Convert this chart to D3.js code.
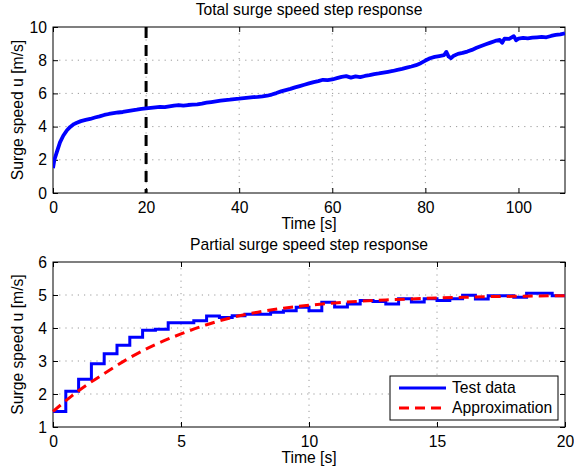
<!DOCTYPE html>
<html><head><meta charset="utf-8">
<script src="https://cdn.jsdelivr.net/npm/d3@7"></script>
<style>
html,body{margin:0;padding:0;background:#fff;}
svg text{font-family:"Liberation Sans",Arial,Helvetica,sans-serif;fill:#000;}
</style></head>
<body>
<svg id="chart" width="574" height="475"></svg>
<script>
// ---- Data ----
// Top: total surge speed step response (time s, speed m/s)
const totalTime = [0,0.3,0.8,1.5,2.2,3,3.7,4.5,5,6,7,8,9,10,11,12,13,14,15,16,17,18,19,20,21,22,23,24,25,26,27,28,29,30,31,32,33,34,35,36,37,38,39,40,41,42,43,44,45,46,47,48,49,50,51,52,53,54,55,56,57,58,59,60,61,62,63,64,65,66,67,68,69,70,71,72,73,74,75,76,77,78,79,80,81,82,83,84,84.5,85,85.5,86,87,88,89,90,91,92,93,94,95,96,96.5,97,98,99,99.5,100,101,102,103,104,105,106,107,108,109,110];
const totalSpeed = [1.5,2.0,2.45,3.05,3.45,3.78,3.98,4.15,4.22,4.33,4.40,4.46,4.55,4.62,4.70,4.76,4.81,4.85,4.88,4.93,4.98,5.02,5.07,5.10,5.13,5.16,5.19,5.17,5.22,5.27,5.30,5.26,5.30,5.32,5.34,5.38,5.44,5.48,5.52,5.56,5.60,5.62,5.66,5.68,5.71,5.74,5.77,5.79,5.82,5.86,5.93,6.02,6.12,6.20,6.27,6.36,6.44,6.52,6.60,6.68,6.74,6.82,6.80,6.84,6.92,7.00,7.04,6.95,7.02,6.98,7.05,7.10,7.16,7.20,7.25,7.30,7.35,7.42,7.48,7.55,7.62,7.70,7.82,7.98,8.12,8.20,8.25,8.30,8.50,8.22,8.12,8.25,8.38,8.44,8.52,8.62,8.75,8.86,8.96,9.06,9.16,9.22,9.05,9.30,9.28,9.45,9.20,9.30,9.34,9.32,9.36,9.38,9.40,9.38,9.46,9.52,9.56,9.62];
const markerTime = 20;

// Bottom: partial response, test data sampled every 0.5 s (step hold)
const stepTime = [0,0.5,1,1.5,2,2.5,3,3.5,4,4.5,5,5.5,6,6.5,7,7.5,8,8.5,9,9.5,10,10.5,11,11.5,12,12.5,13,13.5,14,14.5,15,15.5,16,16.5,17,17.5,18,18.5,19,19.5,20];
const stepSpeed = [1.47,2.08,2.45,2.92,3.22,3.48,3.72,3.93,3.96,4.16,4.16,4.22,4.36,4.32,4.37,4.42,4.42,4.48,4.52,4.63,4.52,4.78,4.64,4.73,4.83,4.80,4.73,4.89,4.79,4.89,4.83,4.89,4.99,4.88,4.98,4.98,4.93,5.05,5.05,4.98,4.98];
// Approximation curve
const approxTime = [0,1,2,3,4,5,6,7,8,9,10,11,12,13,14,15,16,17,18,19,20];
const approxSpeed = [1.47,2.10,2.62,3.10,3.50,3.82,4.10,4.32,4.48,4.60,4.69,4.76,4.81,4.85,4.88,4.91,4.93,4.95,4.96,4.97,4.98];

const topXTicks = [0,20,40,60,80,100];
const topYTicks = [0,2,4,6,8,10];
const botXTicks = [0,5,10,15,20];
const botYTicks = [1,2,3,4,5,6];
const legendLabels = ["Test data","Approximation"];

// ---- Drawing ----
const svg = d3.select("#chart");
const FS = 15.7;

function panel(cfg){
  const g = svg.append("g");
  const x = d3.scaleLinear().domain(cfg.xd).range([cfg.l, cfg.r]);
  const y = d3.scaleLinear().domain(cfg.yd).range([cfg.b, cfg.t]);
  // grid
  g.append("g").selectAll("line").data(cfg.xt.slice(1,-1)).join("line")
    .attr("x1",d=>x(d)).attr("x2",d=>x(d)).attr("y1",cfg.t).attr("y2",cfg.b)
    .attr("stroke","#9a9a9a").attr("stroke-width",1).attr("stroke-dasharray","1.2,5");
  g.append("g").selectAll("line").data(cfg.yt.slice(1,-1)).join("line")
    .attr("y1",d=>y(d)).attr("y2",d=>y(d)).attr("x1",cfg.l).attr("x2",cfg.r)
    .attr("stroke","#9a9a9a").attr("stroke-width",1).attr("stroke-dasharray","1.2,5");
  // axes (ticks inward)
  const tl = 5;
  const ax = g.append("g").attr("transform",`translate(0,${cfg.b})`)
    .call(d3.axisBottom(x).tickValues(cfg.xt).tickSize(-tl).tickPadding(9).tickFormat(d3.format("d")));
  const axT = g.append("g").attr("transform",`translate(0,${cfg.t})`)
    .call(d3.axisTop(x).tickValues(cfg.xt).tickSize(-tl).tickFormat(""));
  const ay = g.append("g").attr("transform",`translate(${cfg.l},0)`)
    .call(d3.axisLeft(y).tickValues(cfg.yt).tickSize(-tl).tickPadding(6).tickFormat(d3.format("d")));
  const ayR = g.append("g").attr("transform",`translate(${cfg.r},0)`)
    .call(d3.axisRight(y).tickValues(cfg.yt).tickSize(-tl).tickFormat(""));
  [ax,axT,ay,ayR].forEach(a=>{
    a.select(".domain").remove();
    a.selectAll("line").attr("stroke","#000");
    a.selectAll("text").attr("font-size",FS).attr("font-family","Liberation Sans, Arial, sans-serif");
  });
  // box
  g.append("rect").attr("x",cfg.l).attr("y",cfg.t).attr("width",cfg.r-cfg.l).attr("height",cfg.b-cfg.t)
    .attr("fill","none").attr("stroke","#000").attr("stroke-width",1);
  // titles
  g.append("text").attr("x",(cfg.l+cfg.r)/2).attr("y",cfg.t-12).attr("text-anchor","middle")
    .attr("font-size",FS).text(cfg.title);
  g.append("text").attr("x",(cfg.l+cfg.r)/2).attr("y",cfg.b+36).attr("text-anchor","middle")
    .attr("font-size",FS).text("Time [s]");
  g.append("text").attr("transform",`translate(${cfg.l-30},${(cfg.t+cfg.b)/2}) rotate(-90)`)
    .attr("text-anchor","middle").attr("font-size",FS).text("Surge speed u [m/s]");
  return {g,x,y};
}

// top panel
const P1 = panel({l:53,r:565,t:27,b:193,xd:[0,110],yd:[0,10],xt:topXTicks,yt:topYTicks,title:"Total surge speed step response"});
svg.append("clipPath").attr("id","c1").append("rect").attr("x",53).attr("y",27).attr("width",512).attr("height",166);
P1.g.append("line").attr("x1",P1.x(markerTime)).attr("x2",P1.x(markerTime)).attr("y1",P1.y(10)).attr("y2",P1.y(0))
  .attr("stroke","#000").attr("stroke-width",3).attr("stroke-dasharray","11,7");
P1.g.append("path").datum(totalTime.map((t,i)=>[t,totalSpeed[i]]))
  .attr("clip-path","url(#c1)")
  .attr("d",d3.line().x(d=>P1.x(d[0])).y(d=>P1.y(d[1])))
  .attr("fill","none").attr("stroke","#0000ff").attr("stroke-width",3.8).attr("stroke-linejoin","round");

// bottom panel
const P2 = panel({l:53,r:565,t:262,b:427,xd:[0,20],yd:[1,6],xt:botXTicks,yt:botYTicks,title:"Partial surge speed step response"});
P2.g.append("path").datum(stepTime.map((t,i)=>[t,stepSpeed[i]]))
  .attr("d",d3.line().curve(d3.curveStepAfter).x(d=>P2.x(d[0])).y(d=>P2.y(d[1])))
  .attr("fill","none").attr("stroke","#0000ff").attr("stroke-width",3);
P2.g.append("path").datum(approxTime.map((t,i)=>[t,approxSpeed[i]]))
  .attr("d",d3.line().curve(d3.curveMonotoneX).x(d=>P2.x(d[0])).y(d=>P2.y(d[1])))
  .attr("fill","none").attr("stroke","#ff0000").attr("stroke-width",3).attr("stroke-dasharray","10,6");

// legend
const lg = P2.g.append("g");
lg.append("rect").attr("x",390).attr("y",376).attr("width",168).attr("height",44)
  .attr("fill","#fff").attr("stroke","#000").attr("stroke-width",1);
const lstyles = [{c:"#0000ff",d:null},{c:"#ff0000",d:"10,6"}];
legendLabels.forEach((lab,i)=>{
  const yy = 388 + i*20;
  const ln = lg.append("line").attr("x1",399).attr("x2",446).attr("y1",yy).attr("y2",yy)
    .attr("stroke",lstyles[i].c).attr("stroke-width",3);
  if(lstyles[i].d) ln.attr("stroke-dasharray",lstyles[i].d);
  lg.append("text").attr("x",452).attr("y",yy).attr("dy","0.35em").attr("font-size",FS).text(lab);
});
</script>
</body></html>
